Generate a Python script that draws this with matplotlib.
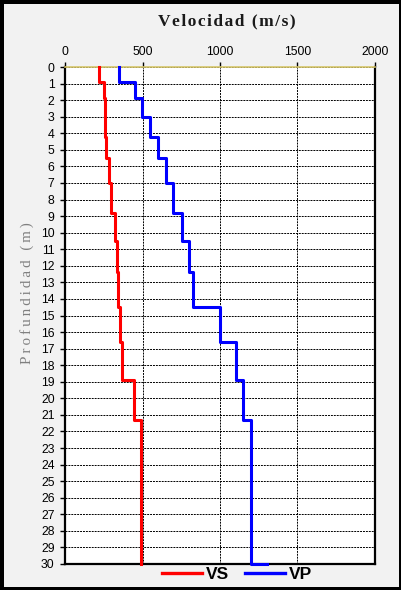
import numpy as np
import matplotlib.pyplot as plt

# layer tops (m) and velocities (m/s)
layer_top = [0, 0.9, 1.9, 3.0, 4.2, 5.5, 7.0, 8.8, 10.5, 12.4, 14.5, 16.6, 18.9, 21.3]
vs = [221, 254, 256, 258, 262, 282, 297, 320, 335, 342, 353, 368, 447, 490]
vp = [348, 452, 495, 548, 598, 650, 699, 753, 798, 824, 1002, 1103, 1146, 1202]
max_depth = 30
vp_half = 1300

x_ticks = [0, 500, 1000, 1500, 2000]
y_ticks = list(range(0, 31))

bottoms = layer_top[1:] + [max_depth]
d_vs = np.column_stack([layer_top, bottoms]).ravel()
x_vs = np.repeat(vs, 2)
d_vp = np.append(d_vs, max_depth)
x_vp = np.append(np.repeat(vp, 2), vp_half)

fig = plt.figure(figsize=(4.02, 5.90), dpi=100)
fig.patch.set_facecolor('#f2f2f2')
fig.patch.set_edgecolor('black')
fig.patch.set_linewidth(5)

ax = fig.add_axes([65/402, 1 - 564/590, 310/402, 497/590])
ax.set_facecolor('white')

ax.plot(x_vs, d_vs, color='#ff0000', lw=2.2, label='VS', zorder=3, clip_on=False)
ax.plot(x_vp, d_vp, color='#0000ff', lw=2.2, label='VP', zorder=3, clip_on=False)

ax.set_xlim(0, 2000)
ax.set_ylim(max_depth, 0)
ax.set_xticks(x_ticks)
ax.set_yticks(y_ticks)
ax.xaxis.tick_top()
ax.tick_params(axis='both', labelsize=8.8, direction='out', length=3.5, width=1,
               labelfontfamily='Liberation Sans')
ax.tick_params(axis='y', pad=4)
ax.tick_params(axis='x', pad=3)

ax.grid(True, color='black', linestyle=(0, (2, 1)), linewidth=0.7)
ax.set_axisbelow(True)

for s in ['left', 'bottom', 'right']:
    ax.spines[s].set_linewidth(1.6)
    ax.spines[s].set_color('black')
ax.spines['top'].set_color('#d6c66a')
ax.spines['top'].set_linewidth(1.2)

fig.text(0.565, 0.963, '\u200a'.join('Velocidad (m/s)'), ha='center', va='center',
         fontsize=12.5, fontweight='bold', color='#1a1a1a',
         family=['Liberation Serif', 'DejaVu Serif'])
fig.text(0.067, 0.503, '\u2009'.join('Profundidad (m)'), ha='center', va='center',
         rotation=90, fontsize=10.8, color='#7f7f7f',
         family=['Liberation Serif', 'DejaVu Serif'])

leg = fig.legend(loc='center', bbox_to_anchor=(0.59, 0.026), ncol=2, frameon=False,
                 prop={'family': 'Liberation Sans', 'weight': 'bold', 'size': 12.5},
                 handlelength=2.3, handletextpad=0.25, columnspacing=0.9)
for line in leg.get_lines():
    line.set_linewidth(2.4)

fig.savefig('out.png', dpi=100, facecolor=fig.get_facecolor(), edgecolor=fig.get_edgecolor())
